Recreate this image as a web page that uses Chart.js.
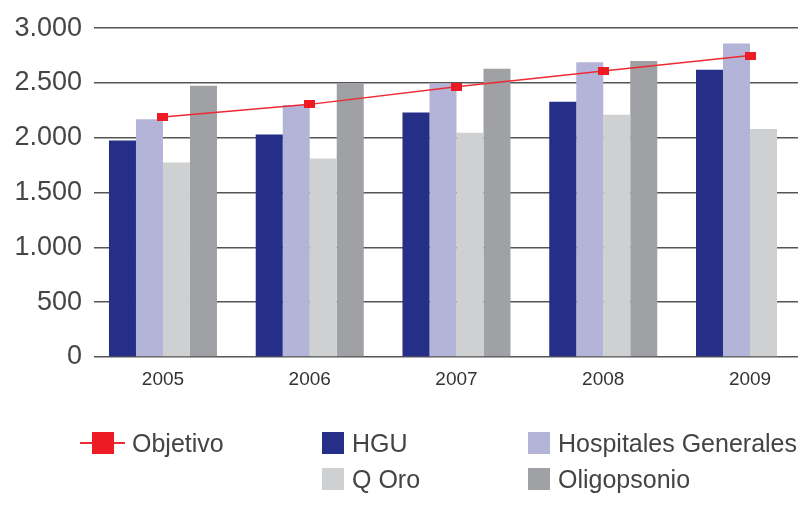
<!DOCTYPE html>
<html>
<head>
<meta charset="utf-8">
<script src="https://cdn.jsdelivr.net/npm/chart.js@4.4.1/dist/chart.umd.min.js"></script>
<style>
  body { margin: 0; background: #fff; }
  #wrap { position: relative; width: 807px; height: 505px; font-family: 'Liberation Sans', Arial, sans-serif; }
  .item { position: absolute; display: flex; align-items: center; height: 30px; font-size: 25px; color: #444; white-space: nowrap; }
  .box { width: 22px; height: 22px; margin-right: 8px; }
  .lineSym { position: relative; width: 45px; height: 22px; margin-right: 7px; }
  .lineSym .ln { position: absolute; left: 0; right: 0; top: 10px; height: 1.5px; background: #ee2a33; }
  .lineSym .sq { position: absolute; left: 12px; top: 0; width: 22px; height: 22px; background: #ed1c24; }
</style>
</head>
<body>
<div id="wrap">
  <canvas id="chart"></canvas>
</div>
<script>
// data
const years = [2005, 2006, 2007, 2008, 2009];
const objetivo = [2190, 2305, 2465, 2610, 2750];
const hgu = [1975, 2030, 2230, 2330, 2620];
const hospitalesGenerales = [2170, 2300, 2495, 2690, 2860];
const qOro = [1775, 1810, 2045, 2210, 2080];
const oligopsonio = [2475, 2500, 2630, 2700, null];
const yTicks = [0, 500, 1000, 1500, 2000, 2500, 3000];

const RED = '#ed1c24';
const barSeries = [
    { label: 'HGU', data: hgu, color: '#262f87' },
    { label: 'Hospitales Generales', data: hospitalesGenerales, color: '#b4b4d8' },
    { label: 'Q Oro', data: qOro, color: '#cfd0d2' },
    { label: 'Oligopsonio', data: oligopsonio, color: '#a0a1a4' },
];

// flat red marker used by the Objetivo line
const marker = document.createElement('canvas');
marker.width = 11;
marker.height = 8;
const mctx = marker.getContext('2d');
mctx.fillStyle = RED;
mctx.fillRect(0, 0, 11, 8);

const ctx = document.getElementById('chart');
new Chart(ctx, {
    type: 'bar',
    data: {
        labels: years,
        datasets: [
            {
                type: 'line',
                label: 'Objetivo',
                data: objetivo,
                borderColor: '#ee2a33',
                borderWidth: 1.5,
                pointStyle: marker,
                pointRadius: 5,
                tension: 0,
            },
            ...barSeries.map(s => ({
                label: s.label,
                data: s.data,
                backgroundColor: s.color,
                borderWidth: 0,
                categoryPercentage: 0.736,
                barPercentage: 1,
            })),
        ],
    },
    options: {
        responsive: true,
        maintainAspectRatio: false,
        animation: false,
        layout: { padding: { top: 25, left: 0, right: 9, bottom: 108 } },
        plugins: {
            legend: { display: false },
            tooltip: { enabled: false },
        },
        scales: {
            x: {
                type: 'linear',
                offset: false,
                min: years[0] - 0.47,
                max: years[years.length - 1] + 0.327,
                grid: { display: false },
                border: { display: false },
                ticks: {
                    stepSize: 1,
                    includeBounds: false,
                    maxRotation: 0,
                    padding: 3,
                    color: '#333',
                    font: { family: "'Liberation Sans', Arial, sans-serif", size: 19 },
                    callback: v => String(v),
                },
                afterFit: s => { s.height = 40; },
            },
            y: {
                min: yTicks[0],
                max: yTicks[yTicks.length - 1],
                afterBuildTicks: s => { s.ticks = yTicks.map(v => ({ value: v })); },
                grid: { color: '#555', lineWidth: 1.5, drawTicks: false },
                border: { display: false },
                ticks: {
                    padding: 12,
                    color: '#454545',
                    font: { family: "'Liberation Sans', Arial, sans-serif", size: 27 },
                    callback: v => v.toLocaleString('de-DE'),
                },
                afterFit: s => { s.width = 94; },
            },
        },
    },
});

// html legend, laid out in the same three columns as the picture
const legendSlots = [
    { name: 'Objetivo', left: 80, top: 428 },
    { name: 'HGU', left: 322, top: 428 },
    { name: 'Hospitales Generales', left: 528, top: 428 },
    { name: 'Q Oro', left: 322, top: 464 },
    { name: 'Oligopsonio', left: 528, top: 464 },
];
const wrap = document.getElementById('wrap');
legendSlots.forEach(slot => {
    const el = document.createElement('div');
    el.className = 'item';
    el.style.left = slot.left + 'px';
    el.style.top = slot.top + 'px';
    const series = barSeries.find(s => s.label === slot.name);
    if (series) {
        el.innerHTML = '<div class="box" style="background:' + series.color + '"></div>';
    } else {
        el.innerHTML = '<div class="lineSym"><div class="ln"></div><div class="sq"></div></div>';
    }
    const txt = document.createElement('span');
    txt.textContent = slot.name;
    el.appendChild(txt);
    wrap.appendChild(el);
});
</script>
</body>
</html>
